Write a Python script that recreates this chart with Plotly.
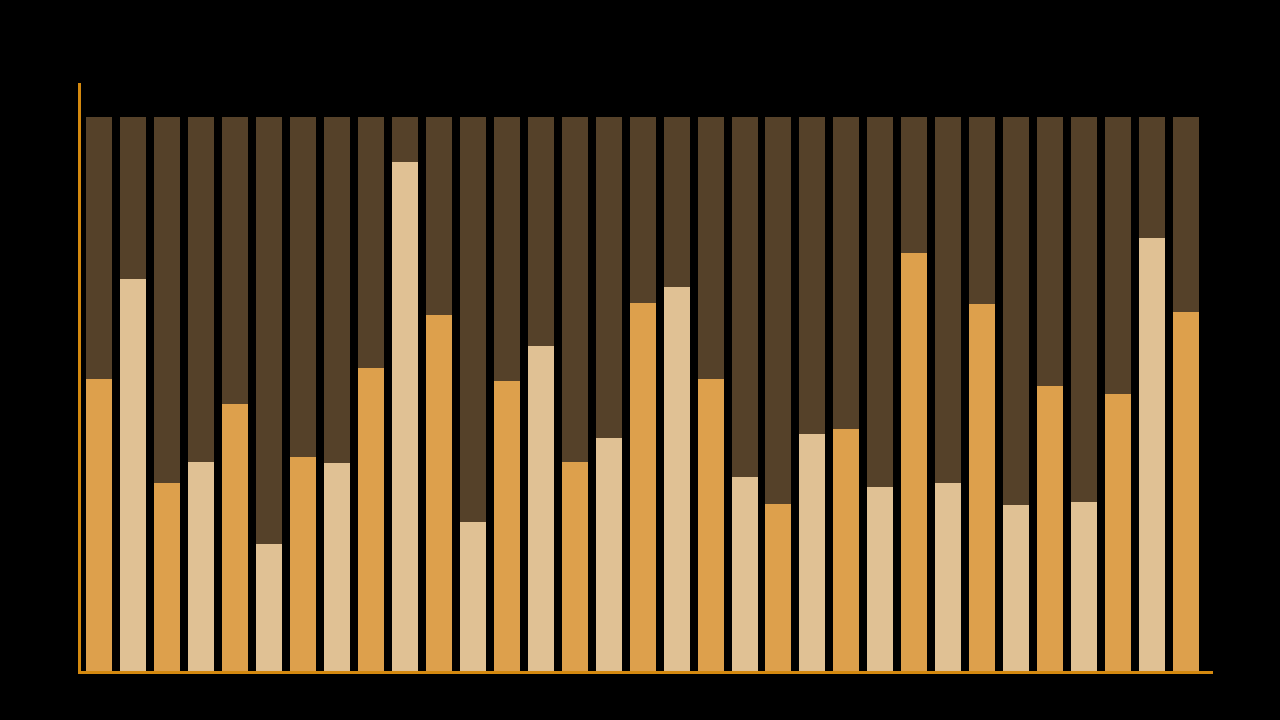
import plotly.graph_objects as go

# share of each column (percent)
categories = [f"C{i + 1}" for i in range(33)]
values = [52.7, 70.8, 33.9, 37.7, 48.2, 22.9, 38.6, 37.5, 54.7, 91.9,
          64.3, 26.9, 52.3, 58.7, 37.7, 42.1, 66.4, 69.3, 52.7, 35.0,
          30.1, 42.8, 43.7, 33.2, 75.5, 33.9, 66.2, 30.0, 51.4, 30.5,
          50.0, 78.2, 64.8]
total = 100
remainder = [total - v for v in values]

orange = "#DDA04C"
light = "#E0C194"
dark = "#554129"
axis_col = "#D4890F"

bar_colors = [orange if i % 2 == 0 else light for i in range(len(values))]

fig = go.Figure()
fig.add_trace(go.Bar(x=categories, y=values, marker=dict(color=bar_colors, line_width=0),
                     hoverinfo="y"))
fig.add_trace(go.Bar(x=categories, y=remainder, marker=dict(color=dark, line_width=0),
                     hoverinfo="y"))

fig.update_layout(
    width=1280, height=720,
    barmode="stack",
    bargap=0.235,
    showlegend=False,
    paper_bgcolor="black",
    plot_bgcolor="black",
    margin=dict(l=81, r=67, t=83, b=49),
)
fig.update_xaxes(range=[-0.53, 32.79], showgrid=False, showticklabels=False, ticks="",
                 zeroline=False, showline=True, linecolor=axis_col, linewidth=3)
fig.update_yaxes(range=[0, 106.1], showgrid=False, showticklabels=False, ticks="",
                 zeroline=False, showline=True, linecolor=axis_col, linewidth=3)

# drop the page margin so the chart sits flush in the window
fig.write_html("out.html", config={"displayModeBar": False},
               post_script="document.body.style.margin='0';document.body.style.background='black';")
